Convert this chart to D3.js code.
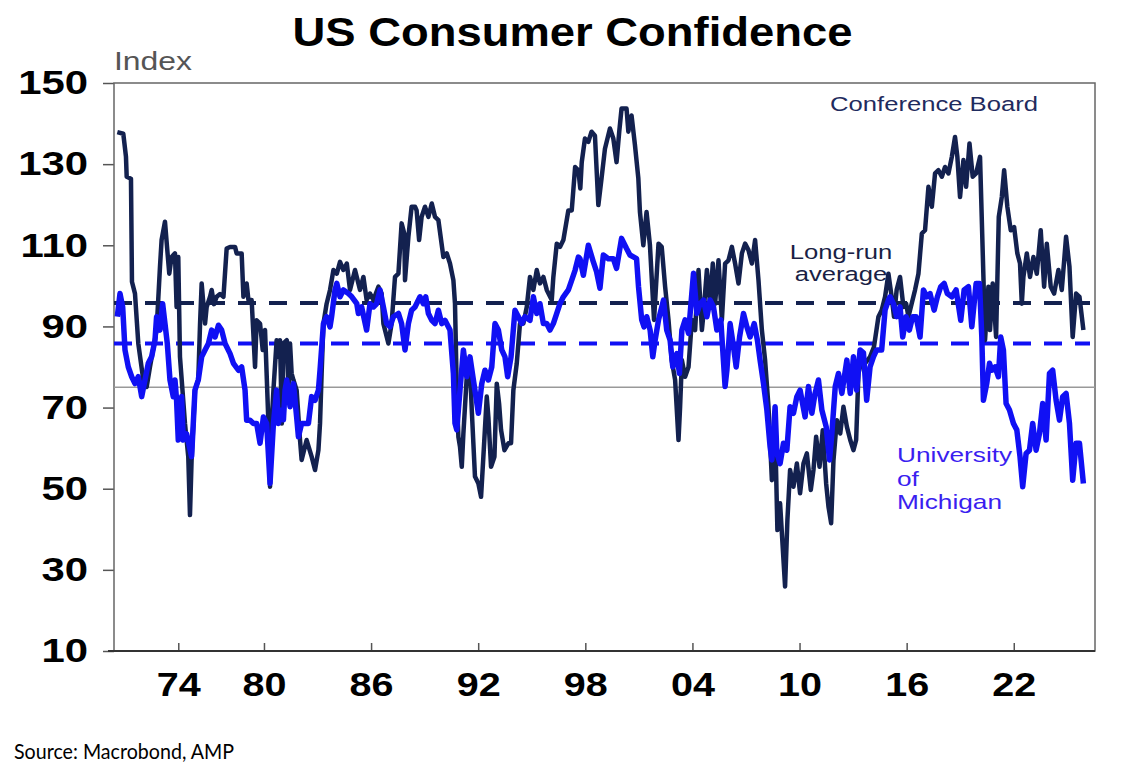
<!DOCTYPE html>
<html>
<head>
<meta charset="utf-8">
<script src="https://cdn.jsdelivr.net/npm/d3@7"></script>
<style>
  body { margin: 0; background: #fff; }
  svg { display: block; }
</style>
</head>
<body>
<script>
// Conference Board index (1985=100) as [decimal year] / [value]
const cbYear = [1967.17,1967.84,1968.14,1968.22,1968.70,1968.81,1969.15,1969.52,1970.08,1970.46,1970.83,1971.57,1971.95,1972.13,1972.51,1972.77,1972.99,1973.25,1973.63,1973.81,1974.00,1974.19,1974.75,1975.12,1975.31,1975.49,1975.87,1976.24,1976.42,1976.51,1976.70,1976.79,1976.98,1977.07,1977.20,1977.35,1977.54,1977.73,1977.91,1978.10,1978.38,1978.47,1978.75,1978.85,1979.03,1979.13,1979.31,1979.50,1979.59,1979.78,1979.93,1980.06,1980.25,1980.34,1980.43,1980.53,1980.71,1980.81,1980.90,1981.00,1981.09,1981.28,1981.37,1981.46,1981.55,1981.65,1981.83,1982.02,1982.11,1982.39,1982.67,1982.86,1983.05,1983.14,1983.23,1983.33,1983.51,1983.70,1983.89,1984.08,1984.26,1984.45,1984.64,1984.82,1985.10,1985.38,1985.57,1985.75,1985.94,1986.13,1986.41,1986.59,1986.69,1986.97,1987.15,1987.34,1987.53,1987.71,1987.86,1987.90,1988.09,1988.27,1988.46,1988.55,1988.69,1988.83,1989.02,1989.21,1989.40,1989.58,1989.77,1990.05,1990.24,1990.42,1990.61,1990.70,1990.80,1990.89,1990.98,1991.08,1991.17,1991.36,1991.54,1991.64,1991.82,1992.01,1992.16,1992.29,1992.48,1992.57,1992.72,1992.91,1993.04,1993.17,1993.28,1993.47,1993.69,1993.84,1993.97,1994.16,1994.34,1994.53,1994.72,1994.90,1995.09,1995.28,1995.46,1995.65,1995.84,1996.12,1996.21,1996.40,1996.58,1996.77,1997.05,1997.24,1997.43,1997.61,1997.72,1997.80,1997.98,1998.17,1998.35,1998.54,1998.73,1998.91,1999.10,1999.38,1999.57,1999.75,1999.90,2000.03,2000.31,2000.41,2000.59,2000.78,2000.97,2001.06,2001.25,2001.43,2001.62,2001.85,2002.10,2002.28,2002.47,2002.66,2002.84,2003.03,2003.22,2003.31,2003.41,2003.59,2003.78,2003.97,2004.15,2004.34,2004.53,2004.62,2004.81,2004.99,2005.14,2005.27,2005.46,2005.65,2005.83,2006.02,2006.21,2006.39,2006.58,2006.77,2006.95,2007.14,2007.33,2007.51,2007.70,2007.89,2008.07,2008.26,2008.45,2008.63,2008.76,2008.91,2009.19,2009.32,2009.47,2009.66,2009.85,2010.03,2010.22,2010.41,2010.63,2010.78,2010.93,2011.12,2011.30,2011.49,2011.62,2011.77,2011.90,2012.09,2012.28,2012.46,2012.65,2012.84,2013.02,2013.17,2013.30,2013.48,2013.67,2013.95,2014.17,2014.42,2014.60,2014.79,2014.98,2015.16,2015.29,2015.44,2015.63,2015.82,2015.97,2016.10,2016.28,2016.47,2016.66,2016.85,2017.03,2017.22,2017.41,2017.59,2017.78,2017.97,2018.15,2018.34,2018.53,2018.71,2018.84,2018.99,2019.18,2019.33,2019.52,2019.70,2019.89,2020.11,2020.30,2020.39,2020.58,2020.67,2020.82,2021.01,2021.16,2021.33,2021.46,2021.64,2021.83,2022.02,2022.20,2022.35,2022.45,2022.54,2022.73,2022.91,2023.10,2023.29,2023.51,2023.70,2023.85,2024.07,2024.26,2024.50,2024.69,2024.93,2025.12,2025.30,2025.49,2025.68,2025.90];
const cbValue = [137.9,137.5,131.8,126.9,126.4,101.0,98.1,85.8,76.8,75.1,80.0,89.1,104.7,111.3,115.8,108.8,103.0,107.1,108.0,94.8,107.1,82.5,66.1,57.9,43.5,57.0,74.3,76.8,90.7,100.6,90.7,94.8,97.3,99.0,95.5,97.3,98.0,97.3,109.2,109.6,109.6,108.0,108.0,97.3,100.6,96.5,96.5,80.0,91.5,90.7,84.2,89.1,66.1,50.5,66.1,74.3,86.6,82.5,86.6,66.1,85.8,86.6,74.3,85.8,78.4,76.8,74.3,62.0,57.1,62.0,57.9,54.6,59.5,66.1,78.4,90.7,95.6,99.0,103.9,103.0,105.9,103.9,105.5,99.0,103.9,99.0,102.2,96.5,98.1,96.5,99.8,98.1,90.7,85.8,90.7,102.2,103.0,115.4,112.9,101.4,112.1,119.5,119.5,118.6,111.3,117.0,119.5,117.0,120.3,117.0,116.2,107.1,108.0,105.5,101.4,95.6,74.3,62.8,60.4,55.4,63.6,77.6,80.0,69.4,53.0,51.3,48.0,57.9,72.7,67.7,55.4,57.9,75.9,71.0,64.5,59.5,61.2,61.2,74.3,80.9,90.7,90.7,94.8,102.2,99.0,103.9,100.6,102.2,99.0,96.5,102.2,110.4,109.6,111.3,118.6,118.6,129.3,128.5,124.0,130.5,136.3,135.5,138.0,137.0,119.9,126.5,133.8,138.8,136.3,130.5,138.0,143.7,143.7,138.0,142.0,134.7,126.5,118.2,110.0,118.2,110.0,91.6,110.4,109.6,99.8,91.6,81.7,76.8,62.0,70.2,81.7,77.6,80.0,91.6,89.1,103.9,89.1,93.2,103.9,95.6,105.5,95.6,106.3,91.6,105.5,106.3,109.6,105.5,100.6,108.0,110.4,108.8,105.5,111.3,101.4,89.1,81.7,70.2,52.1,65.3,39.8,46.4,25.9,42.3,54.6,50.5,56.2,48.9,56.2,58.7,49.7,54.6,62.8,55.4,64.4,51.3,45.6,41.5,57.0,66.9,63.6,70.2,65.3,62.0,59.5,62.0,78.4,81.7,80.9,82.5,85.0,92.4,94.0,97.3,103.0,97.3,92.4,99.0,102.2,94.8,95.6,92.4,95.6,99.0,103.0,112.9,113.7,124.4,119.5,127.7,128.5,126.9,129.3,127.7,131.8,136.7,131.8,121.9,131.0,124.4,135.1,126.9,127.7,131.8,102.2,86.6,99.8,89.1,100.6,87.4,117.0,121.9,128.5,119.5,113.7,114.5,108.0,105.5,95.6,102.2,108.0,102.2,107.1,103.0,113.7,99.8,110.4,99.8,98.1,103.9,99.0,112.1,104.7,87.4,98.1,97.3,89.1];

// University of Michigan consumer sentiment
const umYear = [1967.17,1967.47,1967.77,1968.03,1968.40,1968.78,1969.15,1969.52,1969.90,1970.27,1970.64,1971.01,1971.39,1971.57,1971.95,1972.25,1972.51,1972.77,1973.07,1973.44,1973.63,1973.81,1974.00,1974.37,1974.56,1974.93,1975.49,1975.87,1976.24,1976.51,1976.70,1976.89,1977.07,1977.26,1977.45,1977.63,1977.82,1978.10,1978.29,1978.57,1978.75,1978.94,1979.03,1979.22,1979.41,1979.59,1979.78,1979.97,1980.15,1980.34,1980.53,1980.71,1980.81,1981.00,1981.09,1981.18,1981.28,1981.46,1981.65,1981.83,1981.93,1982.11,1982.30,1982.49,1982.67,1982.86,1983.05,1983.14,1983.33,1983.51,1983.70,1983.79,1983.98,1984.08,1984.26,1984.45,1984.73,1984.92,1985.20,1985.29,1985.47,1985.75,1985.94,1986.13,1986.31,1986.50,1986.69,1986.87,1987.06,1987.25,1987.53,1987.71,1987.90,1988.09,1988.27,1988.46,1988.74,1988.93,1989.06,1989.21,1989.40,1989.58,1989.77,1989.96,1990.14,1990.42,1990.61,1990.70,1990.80,1990.98,1991.17,1991.36,1991.54,1991.73,1992.01,1992.20,1992.38,1992.57,1992.76,1992.94,1993.13,1993.32,1993.50,1993.65,1993.84,1994.06,1994.25,1994.44,1994.62,1994.90,1995.09,1995.28,1995.46,1995.65,1995.84,1996.02,1996.21,1996.40,1996.58,1996.77,1997.05,1997.24,1997.43,1997.61,1997.70,1997.89,1998.17,1998.45,1998.63,1998.82,1999.01,1999.29,1999.57,1999.75,2000.03,2000.31,2000.50,2000.87,2000.98,2001.16,2001.29,2001.44,2001.63,2001.78,2001.91,2002.10,2002.38,2002.56,2002.75,2002.90,2003.13,2003.27,2003.41,2003.59,2003.78,2004.06,2004.25,2004.43,2004.62,2004.81,2004.99,2005.18,2005.37,2005.59,2005.83,2005.93,2006.11,2006.30,2006.45,2006.64,2006.86,2007.05,2007.23,2007.46,2007.64,2007.79,2007.98,2008.17,2008.35,2008.45,2008.63,2008.73,2008.91,2009.10,2009.29,2009.47,2009.66,2009.85,2010.03,2010.31,2010.50,2010.69,2010.87,2011.06,2011.25,2011.49,2011.68,2011.81,2012.00,2012.18,2012.37,2012.65,2012.84,2013.02,2013.20,2013.39,2013.58,2013.76,2013.95,2014.14,2014.32,2014.60,2014.79,2014.98,2015.07,2015.26,2015.44,2015.63,2015.78,2015.97,2016.15,2016.34,2016.53,2016.75,2016.94,2017.13,2017.31,2017.54,2017.72,2017.91,2018.10,2018.28,2018.53,2018.77,2019.03,2019.22,2019.46,2019.65,2019.89,2020.08,2020.21,2020.30,2020.49,2020.64,2020.77,2020.95,2021.14,2021.27,2021.42,2021.57,2021.76,2021.98,2022.17,2022.35,2022.50,2022.69,2022.88,2023.06,2023.25,2023.44,2023.62,2023.81,2024.00,2024.18,2024.37,2024.56,2024.74,2024.93,2025.12,2025.30,2025.49,2025.68,2025.90];
const umValue = [92.4,98.1,94.8,84.2,80.0,77.6,75.9,77.6,72.7,76.8,80.9,82.5,86.6,92.4,89.1,95.6,90.7,85.8,76.8,72.7,76.8,71.8,62.0,72.7,62.0,63.5,57.9,74.3,76.8,82.5,84.2,85.8,89.1,87.4,90.3,89.1,85.8,83.3,80.9,79.2,80.0,74.3,66.9,66.9,66.1,66.1,61.2,67.7,66.1,51.3,66.1,74.3,66.1,69.4,67.0,74.3,76.8,70.2,75.9,67.7,62.8,66.1,66.1,66.1,72.7,71.8,74.3,79.2,90.7,92.4,89.9,92.4,99.0,100.6,97.3,99.0,98.1,97.3,95.6,93.2,94.8,89.1,95.6,94.8,95.6,99.0,94.8,90.7,89.9,92.4,93.2,90.7,84.2,90.7,94.0,94.8,97.3,95.6,97.3,93.2,91.5,90.7,94.0,90.7,91.5,89.1,78.4,66.1,64.5,74.3,84.2,77.6,82.5,76.8,68.6,75.9,79.2,76.8,80.0,90.7,89.1,84.2,82.5,77.6,82.5,94.0,92.4,90.7,92.4,91.5,97.3,93.2,95.6,90.7,90.7,89.1,90.7,93.2,95.6,97.3,99.0,101.4,103.9,107.1,106.7,102.6,110.0,105.9,103.5,99.4,107.6,106.7,106.7,104.3,111.7,109.2,107.6,106.7,99.8,91.6,89.9,92.4,89.1,82.5,86.6,91.6,96.5,89.1,86.6,80.0,83.3,78.4,89.1,91.6,88.3,103.1,93.2,95.6,96.5,92.4,96.5,94.8,89.1,91.6,75.2,79.2,90.7,85.0,80.0,87.4,93.2,89.9,87.4,90.7,86.6,81.7,76.0,69.4,60.4,57.1,70.2,58.7,56.2,61.2,59.5,70.2,68.6,72.7,74.3,67.7,75.2,68.6,73.5,76.8,69.4,65.3,57.1,63.6,75.2,78.4,73.5,81.7,73.5,82.5,74.3,84.2,83.5,71.8,80.0,82.5,84.2,84.2,94.0,96.5,97.3,95.6,92.4,94.8,87.4,92.4,89.1,92.4,92.4,87.4,99.0,97.3,98.1,94.0,97.3,99.8,100.6,98.1,97.3,99.0,91.5,99.0,99.8,89.9,100.6,100.6,87.4,71.8,76.0,80.9,79.2,80.0,77.6,87.4,84.2,71.0,69.4,66.1,64.5,57.9,50.5,58.7,59.5,66.1,59.5,63.6,71.0,62.0,78.4,79.2,71.8,66.9,72.7,73.5,66.1,52.1,61.2,61.2,51.3];

// long-run averages and reference level
const cbAverage = 95.8;
const umAverage = 85.8;
const refLevel = 75;

const yTicks = [10, 30, 50, 70, 90, 110, 130, 150];
const xTicks = [1974, 1980, 1986, 1992, 1998, 2004, 2010, 2016, 2022];

const W = 1133, H = 784;
const plot = {left: 114, right: 1095, top: 83, bottom: 651};
const navy = "#13214f", blue = "#1010f4";

const svg = d3.select("body").append("svg")
    .attr("width", W)
    .attr("height", H)
    .attr("font-family", "'Liberation Sans', Arial, sans-serif");

// the source chart is horizontally stretched, so widen text to match
function stretch(sel, k) {
    sel.each(function () {
        const w = this.getComputedTextLength();
        d3.select(this).attr("textLength", w * k).attr("lengthAdjust", "spacingAndGlyphs");
    });
}
const K = 1.25;

// x is one slot per observation in the source, so the bimonthly
// pre-1977 stretch is compressed: piecewise linear scale
const x = d3.scaleLinear()
    .domain([1967, 1976.4, 2026.55])
    .range([plot.left + 1.8, plot.left + 85.7, plot.right]);
const y = d3.scaleLinear().domain([10, 150]).range([plot.bottom, plot.top]);

// title
svg.append("text")
    .attr("x", 572.5).attr("y", 46)
    .attr("text-anchor", "middle")
    .attr("font-weight", "bold")
    .attr("font-size", 41)
    .attr("textLength", 560).attr("lengthAdjust", "spacingAndGlyphs")
    .text("US Consumer Confidence");

svg.append("text")
    .attr("x", plot.left).attr("y", 70)
    .attr("font-size", 25.5)
    .attr("fill", "#555")
    .text("Index")
    .call(stretch, K);

// axes
const yAxis = svg.append("g")
    .attr("transform", `translate(${plot.left},0)`)
    .call(d3.axisLeft(y).tickValues(yTicks).tickSize(11).tickPadding(15));
yAxis.select(".domain").remove();
yAxis.selectAll("line").attr("stroke", "#555").attr("stroke-width", 1.5);
yAxis.selectAll("text")
    .attr("font-family", "'Liberation Sans', Arial, sans-serif")
    .attr("font-size", 33.5).attr("font-weight", "bold").attr("fill", "#000")
    .call(stretch, K);

const xAxis = svg.append("g")
    .attr("transform", `translate(0,${plot.bottom})`)
    .call(d3.axisBottom(x).tickValues(xTicks).tickSize(-8).tickPadding(21)
        .tickFormat(d => String(d % 100).padStart(2, "0")));
xAxis.select(".domain").remove();
xAxis.selectAll("line").attr("stroke", "#555").attr("stroke-width", 1.5);
xAxis.selectAll("text")
    .attr("font-family", "'Liberation Sans', Arial, sans-serif")
    .attr("font-size", 33.5).attr("font-weight", "bold").attr("fill", "#000")
    .call(stretch, 1.18);

// frame
svg.append("rect")
    .attr("x", plot.left).attr("y", plot.top)
    .attr("width", plot.right - plot.left).attr("height", plot.bottom - plot.top)
    .attr("fill", "none").attr("stroke", "#666").attr("stroke-width", 1.5);
svg.append("line")
    .attr("x1", plot.left - 6).attr("x2", plot.right)
    .attr("y1", plot.bottom).attr("y2", plot.bottom)
    .attr("stroke", "#333").attr("stroke-width", 2);

// reference level and averages
svg.append("line")
    .attr("x1", plot.left).attr("x2", plot.right)
    .attr("y1", y(refLevel)).attr("y2", y(refLevel))
    .attr("stroke", "#999").attr("stroke-width", 1.5);

[[cbAverage, navy], [umAverage, blue]].forEach(([v, c]) => {
    svg.append("line")
        .attr("x1", plot.left).attr("x2", plot.right - 5)
        .attr("y1", y(v)).attr("y2", y(v))
        .attr("stroke", c).attr("stroke-width", 4)
        .attr("stroke-dasharray", "18,13");
});

// series
const line = d3.line().x(d => x(d[0])).y(d => y(d[1]));
const cb = d3.zip(cbYear, cbValue);
const um = d3.zip(umYear, umValue);

svg.append("path")
    .attr("d", line(cb))
    .attr("fill", "none").attr("stroke", navy)
    .attr("stroke-width", 4.5).attr("stroke-linejoin", "round");

svg.append("path")
    .attr("d", line(um))
    .attr("fill", "none").attr("stroke", blue)
    .attr("stroke-width", 5.5).attr("stroke-linejoin", "round");

// annotations
svg.append("text")
    .attr("x", 830).attr("y", 111)
    .attr("font-size", 20.5).attr("fill", "#1f2b5e")
    .text("Conference Board")
    .call(stretch, K);

svg.append("g").selectAll("text")
    .data(["Long-run", "average"])
    .join("text")
    .attr("x", 841).attr("y", (d, i) => 259 + i * 22)
    .attr("text-anchor", "middle")
    .attr("font-size", 20.5).attr("fill", "#1a1f45")
    .text(d => d)
    .call(stretch, K);

svg.append("g").selectAll("text")
    .data(["University", "of", "Michigan"])
    .join("text")
    .attr("x", 897).attr("y", (d, i) => 462 + i * 23.5)
    .attr("font-size", 21).attr("fill", "#3a1ef0")
    .text(d => d)
    .call(stretch, K);

// source
svg.append("text")
    .attr("x", 14).attr("y", 759)
    .attr("font-family", "Lato, 'Open Sans', sans-serif")
    .attr("font-size", 21)
    .attr("textLength", 220).attr("lengthAdjust", "spacingAndGlyphs")
    .text("Source: Macrobond, AMP");
</script>
</body>
</html>
